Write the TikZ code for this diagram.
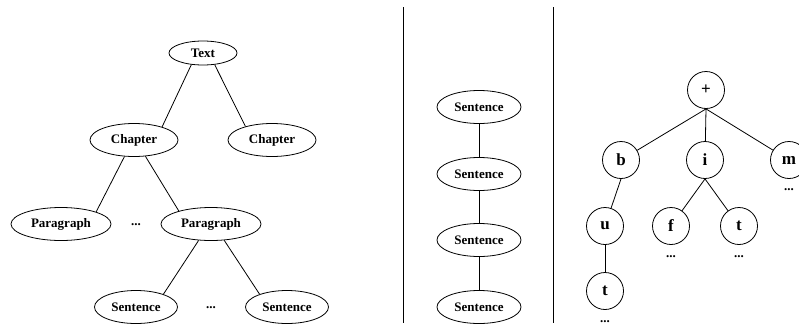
\documentclass[tikz,border=0pt]{standalone}
\usepackage{fontspec}
\setmainfont{Liberation Serif}
\usetikzlibrary{shapes.geometric}
\begin{document}
\begin{tikzpicture}[x=1pt,y=-1pt,
  every node/.style={font=\fontsize{13}{15}\selectfont\bfseries, inner sep=0pt},
  oval/.style={draw, ellipse, line width=0.8pt, minimum height=33pt},
  letter/.style={draw, circle, line width=0.8pt, minimum size=37pt, font=\fontsize{17}{19}\selectfont\bfseries},
  dots/.style={anchor=base},
  edge/.style={line width=0.8pt},
  divider/.style={line width=1.3pt}]
\useasboundingbox (0,0) rectangle (799,327);

% document hierarchy
\node[oval, minimum width=68pt, minimum height=24pt] (text) at (203,53) {Text};
\node[oval, minimum width=88pt] (ch1) at (134,140) {Chapter};
\node[oval, minimum width=88pt] (ch2) at (272,140) {Chapter};
\node[oval, minimum width=100pt] (pa1) at (61,224) {Paragraph};
\node[oval, minimum width=100pt] (pa2) at (211,224) {Paragraph};
\node[dots] (pdots) at (136,225.5) {...};
\node[oval, minimum width=83pt] (se1) at (136,307) {Sentence};
\node[oval, minimum width=83pt] (se2) at (287,307) {Sentence};
\node[dots] (sdots) at (211,308.5) {...};

\draw[edge] (text.225) -- (ch1.25);
\draw[edge] (text.315) -- (ch2.153);
\draw[edge] (ch1.240) -- (pa1.19);
\draw[edge] (ch1.305) -- (pa2.158);
\draw[edge] (pa2.233) -- (se1.25);
\draw[edge] (pa2.309) -- (se2.155);

% separators
\coordinate (d1a) at (403.5,7);
\coordinate (d1b) at (403.5,323);
\coordinate (d2a) at (553.5,7);
\coordinate (d2b) at (553.5,323);
\draw[divider] (d1a) -- (d1b);
\draw[divider] (d2a) -- (d2b);

% sentence chain
\node[oval, minimum width=84pt] (c1) at (479,107) {Sentence};
\node[oval, minimum width=84pt] (c2) at (479,174) {Sentence};
\node[oval, minimum width=84pt] (c3) at (479,240) {Sentence};
\node[oval, minimum width=84pt] (c4) at (479,307) {Sentence};
\draw[edge] (c1) -- (c2);
\draw[edge] (c2) -- (c3);
\draw[edge] (c3) -- (c4);

% character trie
\node[letter] (plus) at (706,90) {+};
\node[letter] (b) at (621,160) {b};
\node[letter] (i) at (705,160) {i};
\node[letter] (m) at (789,160) {m};
\node[letter] (u) at (605,226) {u};
\node[letter] (f) at (671,226) {f};
\node[letter] (t1) at (739,226) {t};
\node[letter] (t2) at (605,291) {t};
\node[dots] (mdots) at (789,190) {...};
\node[dots] (fdots) at (671,257) {...};
\node[dots] (t1dots) at (739,257) {...};
\node[dots] (t2dots) at (605,322) {...};

\draw[edge] (plus.south) -- (b);
\draw[edge] (plus.south) -- (i);
\draw[edge] (plus.south) -- (m);
\draw[edge] (b.south) -- (u);
\draw[edge] (i.south) -- (f);
\draw[edge] (i.south) -- (t1);
\draw[edge] (u) -- (t2);
\end{tikzpicture}
\end{document}
